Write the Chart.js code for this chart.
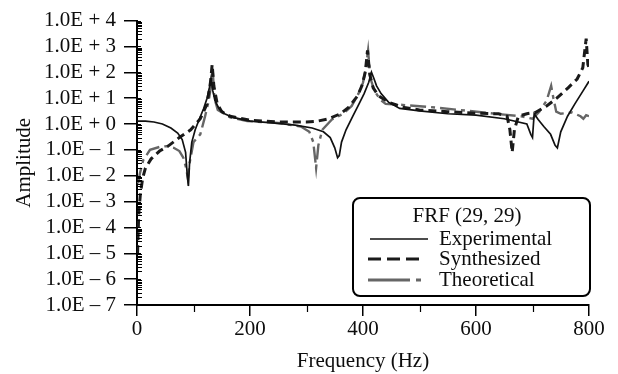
<!DOCTYPE html>
<html>
<head>
<meta charset="utf-8">
<script src="https://cdn.jsdelivr.net/npm/chart.js@4.4.0/dist/chart.umd.min.js"></script>
<style>
  html, body { margin: 0; padding: 0; background: #fff; }
  canvas { display: block; }
</style>
</head>
<body>
<canvas id="c" width="618" height="374"></canvas>
<script>
// ---- data ----
const freqExp = [0, 15, 30, 45, 60, 72, 80, 86, 89, 91, 93, 97, 103, 110, 118, 124, 128, 131, 134, 138, 145, 155, 170, 200, 240, 280, 310, 330, 342, 350, 355, 358, 362, 370, 382, 393, 402, 410, 415, 419, 424, 432, 445, 465, 500, 550, 600, 650, 690, 697, 700, 703, 710, 720, 732, 740, 744, 750, 762, 775, 790, 800];
const ampExp  = [1.3, 1.3, 1.2, 1.0, 0.7, 0.45, 0.25, 0.08, 0.01, 0.004, 0.03, 0.2, 0.6, 1.5, 4, 10, 25, 60, 20, 8, 4, 2.5, 1.8, 1.3, 1.1, 0.9, 0.7, 0.5, 0.3, 0.12, 0.05, 0.06, 0.2, 0.6, 2, 6, 15, 40, 100, 60, 30, 15, 7, 4, 3.2, 2.5, 2.2, 1.6, 1.0, 0.4, 0.3, 2.5, 1.5, 0.8, 0.4, 0.15, 0.12, 0.5, 2, 6, 20, 45];

const freqSyn = [1, 3, 6, 10, 15, 25, 40, 55, 75, 95, 112, 124, 130, 133, 136, 142, 150, 165, 200, 250, 300, 320, 340, 360, 375, 390, 398, 404, 408, 412, 418, 428, 445, 470, 500, 550, 600, 640, 655, 660, 664, 668, 675, 690, 705, 725, 743, 763, 779, 789, 795, 798, 800];
const ampSyn  = [0.00001, 0.0003, 0.002, 0.008, 0.02, 0.045, 0.09, 0.14, 0.3, 0.6, 1.6, 6, 40, 200, 30, 6, 3, 2, 1.4, 1.2, 1.2, 1.3, 1.6, 2.5, 4.5, 12, 30, 100, 700, 80, 25, 12, 7, 4.5, 3.5, 3, 2.6, 2.5, 2.0, 0.6, 0.08, 0.6, 2, 2.5, 2.8, 5, 10, 25, 55, 150, 2000, 200, 150];

const freqThe = [2, 5, 11, 23, 40, 53, 65, 75, 82, 87, 90, 93, 100, 112, 120, 127, 131, 134, 137, 143, 165, 195, 250, 290, 305, 312, 317, 321, 328, 345, 365, 380, 392, 400, 405, 409, 413, 420, 430, 440, 470, 520, 570, 620, 650, 680, 700, 712, 725, 733, 737, 742, 750, 770, 785, 790, 795, 800];
const ampThe  = [0.005, 0.012, 0.04, 0.1, 0.13, 0.14, 0.12, 0.09, 0.05, 0.02, 0.008, 0.03, 0.2, 0.4, 1.8, 8, 30, 120, 10, 3.5, 1.8, 1.3, 1.1, 0.8, 0.5, 0.2, 0.02, 0.15, 0.6, 1.5, 2.5, 5, 15, 40, 150, 700, 60, 20, 9, 6, 5.5, 4.5, 3.5, 2.7, 2.3, 2.0, 1.6, 3, 8, 30, 10, 3, 2.5, 2.8, 2.0, 1.6, 2.2, 2.0];

const seriesNames = ['Experimental', 'Synthesized', 'Theoretical'];
const legendTitle = 'FRF (29, 29)';
const yExponents = [-7, -6, -5, -4, -3, -2, -1, 0, 1, 2, 3, 4];
const xMajorTicks = [0, 200, 400, 600, 800];
const xMinorTicks = [100, 300, 500, 700];
const xTitle = 'Frequency (Hz)';
const yTitle = 'Amplitude';

// ---- build ----
const toPts = (fs, as) => fs.map((f, i) => ({ x: f, y: as[i] }));
const SERIF = '"Liberation Serif", "DejaVu Serif", serif';
const TXT = '#0d0d0d';

const datasets = [
  { label: seriesNames[0], data: toPts(freqExp, ampExp), borderColor: '#111', borderWidth: 1.7, borderDash: [] },
  { label: seriesNames[1], data: toPts(freqSyn, ampSyn), borderColor: '#1a1a1a', borderWidth: 3, borderDash: [8, 5] },
  { label: seriesNames[2], data: toPts(freqThe, ampThe), borderColor: '#666', borderWidth: 2.4, borderDash: [16, 5, 4, 5] }
];
datasets.forEach(d => { d.pointRadius = 0; d.tension = 0; d.fill = false; });

const expLabel = v => {
  const e = Math.round(Math.log10(v));
  return '1.0E ' + (e >= 0 ? '+' : '\u2013') + ' ' + Math.abs(e);
};

const minorTicksPlugin = {
  id: 'minorTicks',
  afterDraw(chart) {
    const ctx = chart.ctx, xs = chart.scales.x, ys = chart.scales.y;
    const area = chart.chartArea;
    ctx.save();
    ctx.strokeStyle = '#000';
    ctx.lineWidth = 1.2;
    ctx.beginPath();
    for (let e = yExponents[0]; e < yExponents[yExponents.length - 1]; e++) {
      for (let m = 2; m <= 9; m++) {
        const py = Math.round(ys.getPixelForValue(m * Math.pow(10, e))) + 0.5;
        ctx.moveTo(area.left, py); ctx.lineTo(area.left + 5, py);
      }
    }
    yExponents.forEach(e => {
      const py = Math.round(ys.getPixelForValue(Math.pow(10, e))) + 0.5;
      ctx.moveTo(area.left, py); ctx.lineTo(area.left + 4, py);
    });
    xMinorTicks.forEach(f => {
      const px = Math.round(xs.getPixelForValue(f)) + 0.5;
      ctx.moveTo(px, area.bottom); ctx.lineTo(px, area.bottom + 7);
    });
    ctx.stroke();
    ctx.restore();
  }
};

const legendPlugin = {
  id: 'boxLegend',
  afterDraw(chart) {
    const ctx = chart.ctx;
    const bx = 353, by = 198, bw = 237, bh = 98, r = 7;
    ctx.save();
    ctx.fillStyle = '#fff';
    ctx.strokeStyle = '#000';
    ctx.lineWidth = 2;
    ctx.beginPath();
    ctx.moveTo(bx + r, by);
    ctx.arcTo(bx + bw, by, bx + bw, by + bh, r);
    ctx.arcTo(bx + bw, by + bh, bx, by + bh, r);
    ctx.arcTo(bx, by + bh, bx, by, r);
    ctx.arcTo(bx, by, bx + bw, by, r);
    ctx.closePath();
    ctx.fill();
    ctx.stroke();

    ctx.fillStyle = TXT;
    ctx.font = '21px ' + SERIF;
    ctx.textBaseline = 'middle';
    ctx.textAlign = 'center';
    ctx.fillText(legendTitle, 467, 216);

    const rows = [239, 259, 280];
    const samples = [
      { x0: 370, x1: 428, dash: [] },
      { x0: 368, x1: 421, dash: [13, 6] },
      { x0: 368, x1: 421, dash: [42, 6, 6, 100] }
    ];
    ctx.textAlign = 'left';
    chart.data.datasets.forEach((ds, i) => {
      const y = rows[i];
      ctx.save();
      ctx.strokeStyle = ds.borderColor;
      ctx.lineWidth = i === 0 ? 1.7 : 3;
      ctx.setLineDash(samples[i].dash);
      ctx.beginPath();
      ctx.moveTo(samples[i].x0, y);
      ctx.lineTo(samples[i].x1, y);
      ctx.stroke();
      ctx.restore();
      ctx.fillText(ds.label, 439, y);
    });
    ctx.restore();
  }
};

new Chart(document.getElementById('c'), {
  type: 'line',
  data: { datasets },
  options: {
    responsive: false,
    animation: false,
    layout: { padding: { left: 0, right: 29, top: 20, bottom: 0 } },
    plugins: { legend: { display: false }, tooltip: { enabled: false } },
    scales: {
      x: {
        type: 'linear', min: 0, max: 800,
        afterBuildTicks: s => { s.ticks = xMajorTicks.map(v => ({ value: v })); },
        afterFit: s => { s.height = 69; },
        ticks: { color: TXT, font: { family: SERIF, size: 21 }, padding: 1, maxRotation: 0, autoSkip: false },
        grid: { drawOnChartArea: false, drawTicks: true, tickLength: 11, color: '#000', lineWidth: 1.5 },
        border: { display: true, color: '#000', width: 2 },
        title: { display: true, text: xTitle, color: TXT, font: { family: SERIF, size: 21 }, padding: { top: 0, bottom: 0 } }
      },
      y: {
        type: 'logarithmic', min: 1e-7, max: 1e4,
        afterBuildTicks: s => { s.ticks = yExponents.map(e => ({ value: Math.pow(10, e) })); },
        afterFit: s => { s.width = 137; },
        ticks: { color: TXT, font: { family: SERIF, size: 21 }, padding: 8, autoSkip: false, callback: v => expLabel(v) },
        grid: { drawOnChartArea: false, drawTicks: true, tickLength: 13, color: '#000', lineWidth: 1.5 },
        border: { display: true, color: '#000', width: 2 },
        title: { display: true, text: yTitle, color: TXT, font: { family: SERIF, size: 21 }, padding: { top: 12, bottom: 0 } }
      }
    }
  },
  plugins: [minorTicksPlugin, legendPlugin]
});
</script>
</body>
</html>
